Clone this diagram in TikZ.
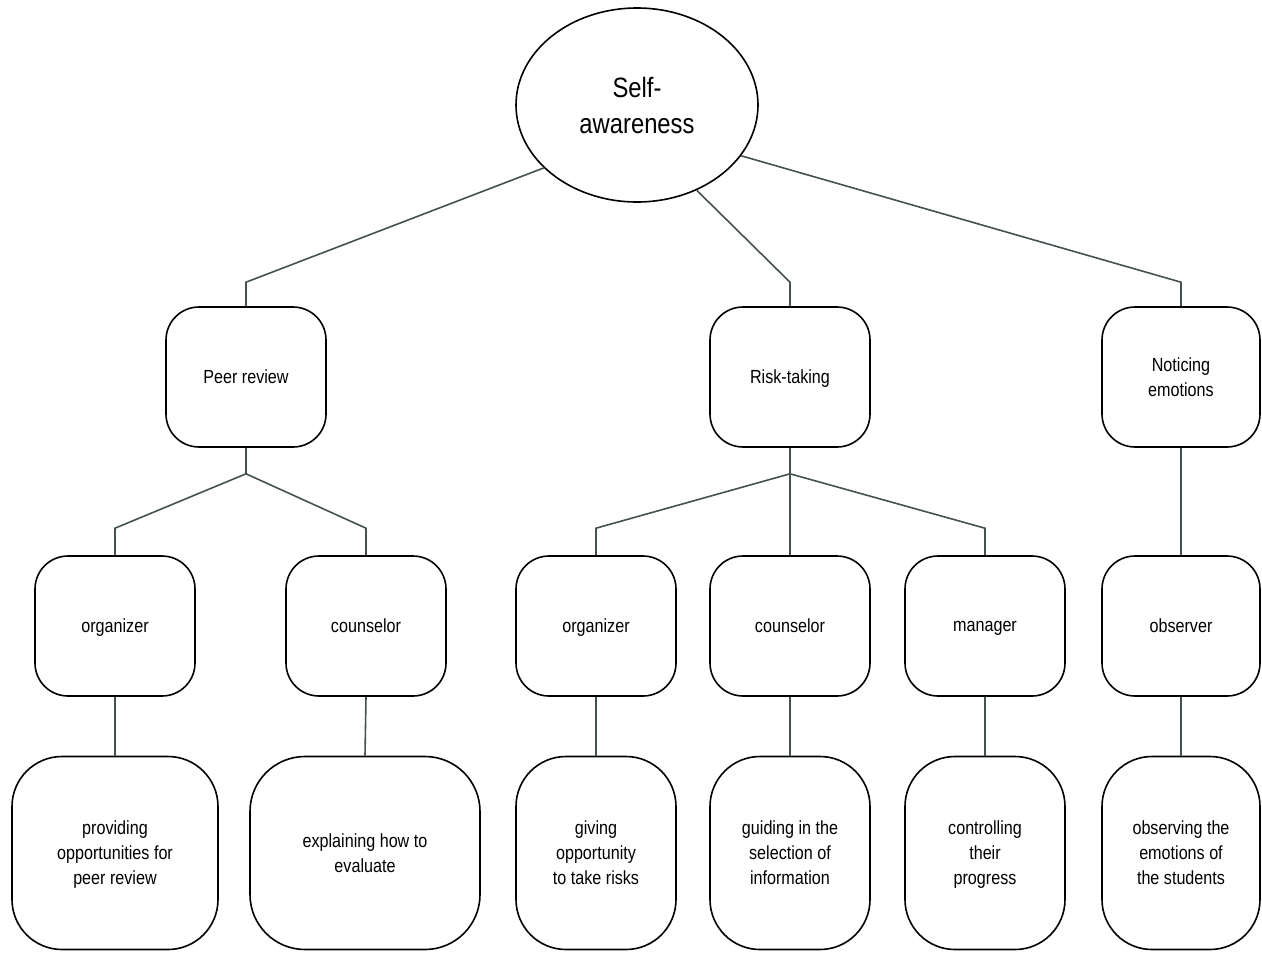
\documentclass[tikz,border=0pt]{standalone}
\usepackage{fontspec}
\setmainfont[FakeStretch=0.85]{Liberation Sans}
\usetikzlibrary{shapes.geometric, calc}
\definecolor{linkgray}{HTML}{44524D}

\begin{document}
\begin{tikzpicture}[x=1pt,y=-1pt,
    box/.style={draw, line width=1.6pt, rounded corners=33pt, minimum width=160pt,
      minimum height=140pt, inner sep=0pt, align=center, text depth=0pt,
      font=\fontsize{19}{25}\selectfont},
    tallbox/.style={box, rounded corners=50pt, minimum height=193pt},
    link/.style={draw=linkgray, line width=1.6pt}]
        \useasboundingbox (0,0) rectangle (1262,954);

        \node[ellipse, draw, line width=1.6pt, minimum width=242pt, minimum height=194pt,
          inner sep=0pt, align=center, font=\fontsize{28}{36}\selectfont] (root) at (637,105) {Self-\\awareness};

        \node[box] (peer) at (246,377) {Peer review};
        \node[box] (risk) at (790,377) {Risk-taking};
        \node[box, minimum width=158pt] (notice) at (1181,377) {Noticing\\emotions};

        \node[box] (org1) at (115,626) {organizer};
        \node[box] (couns1) at (366,626) {counselor};
        \node[box] (org2) at (596,626) {organizer};
        \node[box] (couns2) at (790,626) {counselor};
        \node[box] (manager) at (985,626) {manager};
        \node[box, minimum width=158pt] (observer) at (1181,626) {observer};

        \node[tallbox, minimum width=206pt] (provide) at (115,853) {providing\\opportunities for\\peer review};
        \node[tallbox, minimum width=230pt, rounded corners=55pt] (explain) at (365,853) {explaining how to\\evaluate};
        \node[tallbox] (giving) at (596,853) {giving\\opportunity\\to take risks};
        \node[tallbox] (guiding) at (790,853) {guiding in the\\selection of\\information};
        \node[tallbox] (control) at (985,853) {controlling\\their\\progress};
        \node[tallbox, minimum width=158pt] (observing) at (1181,853) {observing the\\emotions of\\the students};

        \draw[link] (root.214) -- ($(peer.north)+(0,-24)$) -- (peer.north);
        \draw[link] (root.305) -- ($(risk.north)+(0,-24)$) -- (risk.north);
        \draw[link] (root.334) -- ($(notice.north)+(0,-24)$) -- (notice.north);

        \coordinate (jpeer) at ($(peer.south)+(0,26)$);
        \draw[link] (peer.south) -- (jpeer) -- ($(org1.north)+(0,-27)$) -- (org1.north);
        \draw[link] (jpeer) -- ($(couns1.north)+(0,-27)$) -- (couns1.north);

        \coordinate (jrisk) at ($(risk.south)+(0,26)$);
        \draw[link] (risk.south) -- (jrisk) -- ($(org2.north)+(0,-27)$) -- (org2.north);
        \draw[link] (jrisk) -- (couns2.north);
        \draw[link] (jrisk) -- ($(manager.north)+(0,-27)$) -- (manager.north);

        \draw[link] (notice.south) -- (observer.north);

        \foreach \a/\b in {org1/provide, couns1/explain, org2/giving, couns2/guiding, manager/control, observer/observing}
          \draw[link] (\a.south) -- (\b.north);
      \end{tikzpicture}
\end{document}
